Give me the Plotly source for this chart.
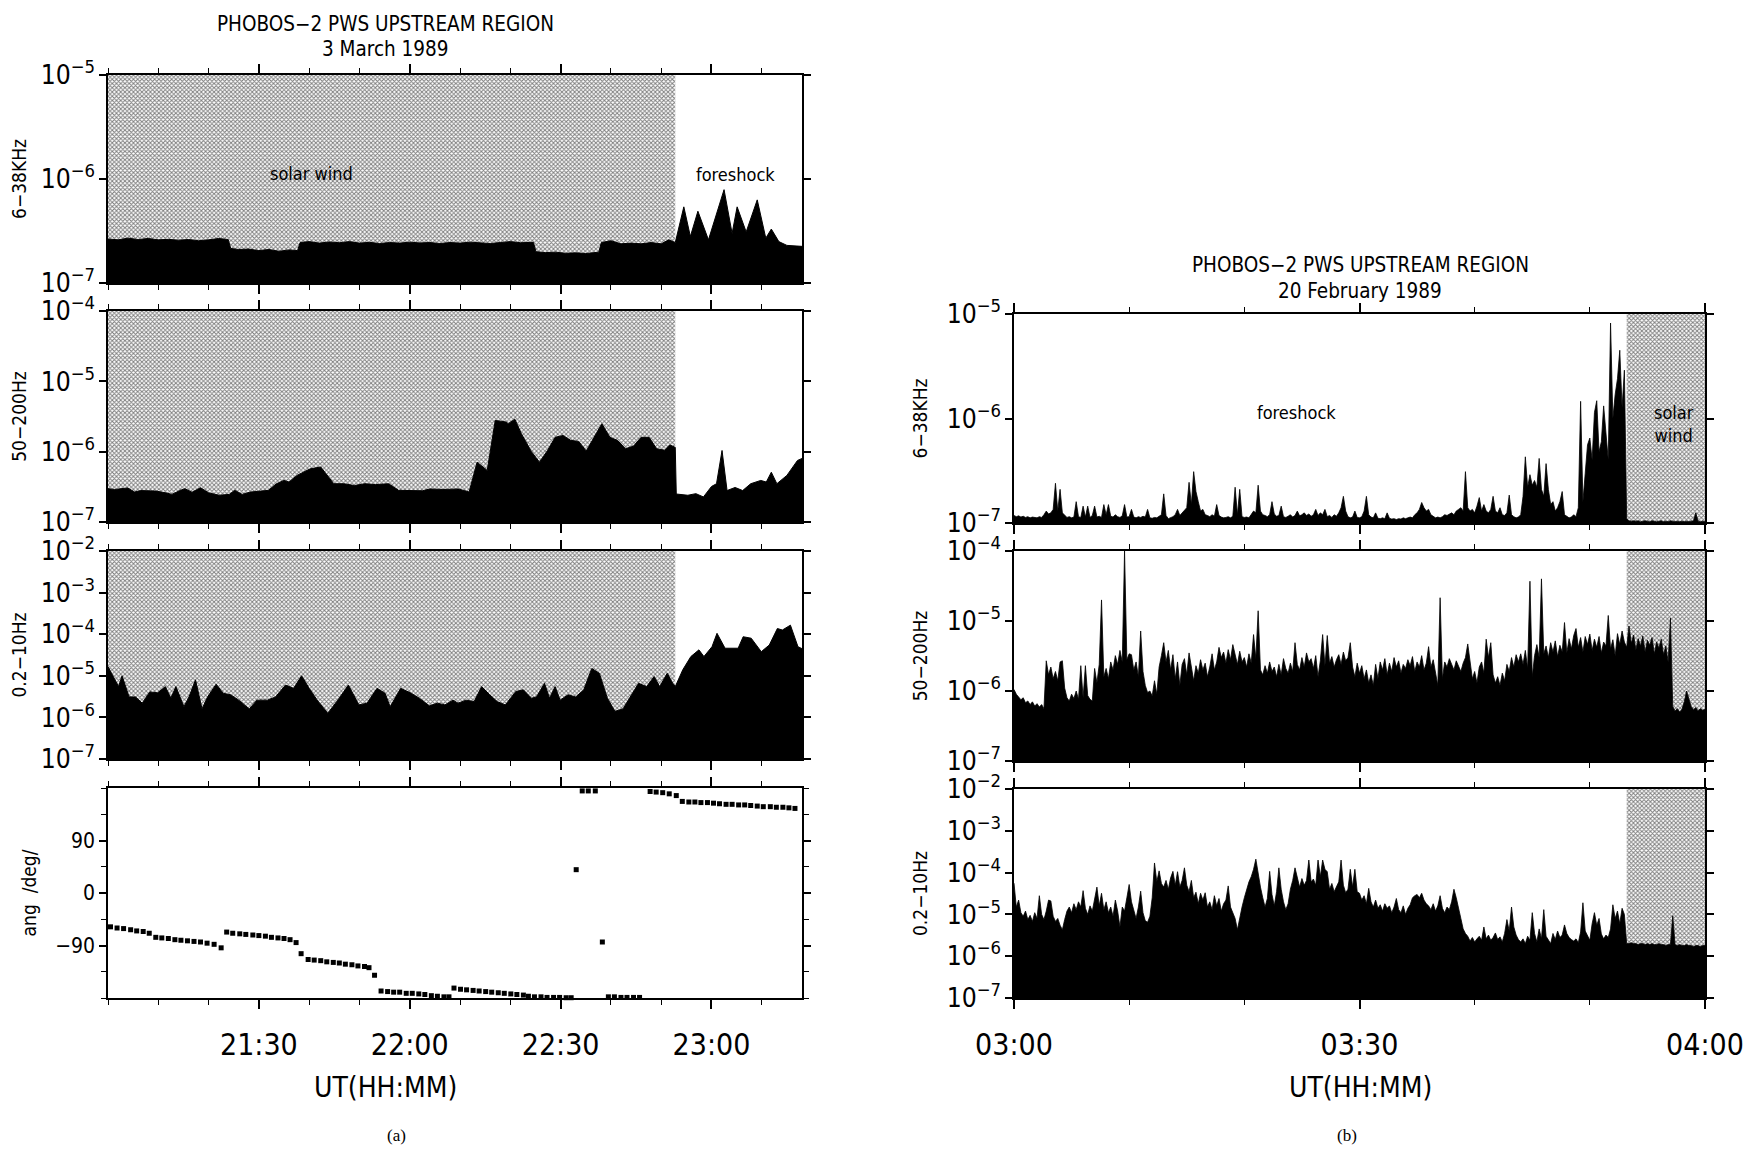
import plotly.graph_objects as go

## Data

# (a) 3 March 1989 -- time in minutes after 21:00 UT
a_sw_end = 112.8          # end of solar wind interval
a_xmax = 138
a_tickvals = [30, 60, 90, 120]
a_ticktext = ['21:30', '22:00', '22:30', '23:00']

a1_t = [0, 2, 4, 6, 8, 10, 12, 14, 16, 18, 20, 22, 23.9, 24.4, 26, 28, 30, 32, 34, 36, 37.7, 38.2,
        40, 42, 44, 46, 48, 50, 52, 54, 56, 58, 60, 62, 64, 66, 68, 70, 72, 74, 76, 78, 80, 82,
        84.6, 85.1, 87, 89, 91, 93, 95, 97.6, 98.1, 100, 102, 104, 106, 108, 110, 111.5, 112.8,
        114.5, 115.8, 117.3, 119.4, 122.5, 124.1, 125.1, 126.9, 129.1, 130.8, 131.9, 133.4, 135, 137.6, 138]
a1_v = [2.65e-7, 2.6e-7, 2.7e-7, 2.62e-7, 2.68e-7, 2.6e-7, 2.63e-7, 2.58e-7, 2.62e-7, 2.55e-7, 2.6e-7,
        2.68e-7, 2.62e-7, 2.15e-7, 2.1e-7, 2.12e-7, 2.05e-7, 2.1e-7, 2.02e-7, 2.08e-7, 2.05e-7, 2.45e-7,
        2.5e-7, 2.42e-7, 2.48e-7, 2.44e-7, 2.5e-7, 2.42e-7, 2.46e-7, 2.4e-7, 2.45e-7, 2.42e-7, 2.47e-7,
        2.43e-7, 2.45e-7, 2.4e-7, 2.45e-7, 2.42e-7, 2.47e-7, 2.44e-7, 2.4e-7, 2.45e-7, 2.5e-7, 2.44e-7,
        2.46e-7, 2.0e-7, 1.96e-7, 1.98e-7, 1.93e-7, 1.95e-7, 1.92e-7, 1.98e-7, 2.45e-7, 2.55e-7, 2.38e-7,
        2.42e-7, 2.38e-7, 2.45e-7, 2.38e-7, 2.6e-7, 2.45e-7,
        5.4e-7, 2.8e-7, 4.9e-7, 2.6e-7, 7.9e-7, 3.0e-7, 5.4e-7, 3.1e-7, 6.3e-7, 2.7e-7, 3.3e-7, 2.5e-7,
        2.3e-7, 2.25e-7, 2.25e-7]

a2_t = [0, 1.3, 3.9, 5.3, 6.5, 9.6, 11.7, 12.7, 14.3, 15.3, 16.7, 18.4, 20, 22.1, 24.1, 25.2, 26.7,
        28.3, 30.4, 31.9, 33.5, 35, 36, 37.6, 40.2, 42.3, 44.9, 46.9, 49, 51.1, 53.2, 55.8, 57.8, 60.4,
        62.5, 64, 66.6, 69.7, 71.8, 73.4, 74.4, 75.4, 77, 79.1, 79.6, 80.9, 82.2, 84.2, 85.8, 87.4, 88.9,
        90.5, 92, 93.6, 95.1, 96.7, 98.2, 99.8, 101.3, 102.9, 104.5, 106, 107.6, 109.1, 110.7, 111.7,
        112.8, 113.0, 115.3, 116.9, 118.4, 120, 121, 122.1, 123.1, 124.7, 126.2, 127.8, 129.8, 130.9,
        131.9, 133, 135, 137.1, 138]
a2_v = [2.98e-7, 2.9e-7, 3.05e-7, 2.67e-7, 2.8e-7, 2.75e-7, 2.58e-7, 2.47e-7, 2.8e-7, 2.98e-7, 2.65e-7,
        3.07e-7, 2.6e-7, 2.4e-7, 2.47e-7, 2.82e-7, 2.47e-7, 2.67e-7, 2.75e-7, 2.82e-7, 3.5e-7, 3.9e-7,
        3.7e-7, 4.6e-7, 5.7e-7, 6.06e-7, 3.5e-7, 3.5e-7, 3.3e-7, 3.5e-7, 3.4e-7, 3.5e-7, 2.82e-7, 2.82e-7,
        2.78e-7, 2.95e-7, 2.9e-7, 2.95e-7, 2.67e-7, 7.1e-7, 6.2e-7, 5.4e-7, 2.78e-6, 2.65e-6, 2.5e-6,
        2.9e-6, 1.8e-6, 1.0e-6, 7.1e-7, 1.04e-6, 1.6e-6, 1.7e-6, 1.45e-6, 1.4e-6, 1.02e-6, 1.6e-6, 2.5e-6,
        1.6e-6, 1.45e-6, 1.1e-6, 1.2e-6, 1.6e-6, 1.6e-6, 1.1e-6, 1.05e-6, 1.25e-6, 1.15e-6, 2.5e-7,
        2.4e-7, 2.53e-7, 2.27e-7, 3.2e-7, 3.5e-7, 1.04e-6, 2.8e-7, 3.1e-7, 2.8e-7, 3.5e-7, 3.9e-7, 3.7e-7,
        5.1e-7, 3.5e-7, 4.6e-7, 7.5e-7, 8e-7]

a3_t = [0, 1.0, 2.1, 2.8, 4.2, 5.5, 6.8, 8.3, 9.9, 11.4, 12.5, 13.5, 15.1, 16.1, 17.4, 18.7, 19.8,
        21.5, 22.9, 24.4, 26.0, 28.1, 29.6, 31.7, 33.3, 35.3, 36.9, 38.5, 40.0, 41.6, 43.7, 45.7, 47.8,
        49.9, 51.5, 53.5, 55.1, 56.1, 58.2, 60.3, 61.9, 63.9, 65.5, 67.0, 68.6, 69.6, 71.2, 72.8, 74.3,
        75.9, 77.4, 79.0, 81.1, 82.6, 84.2, 85.2, 86.8, 87.8, 88.9, 89.9, 91.5, 93.0, 94.6, 96.2, 97.7,
        99.3, 100.8, 102.4, 103.9, 105.5, 107.1, 108.6, 109.7, 111.2, 112.3, 112.8, 114.3, 115.9, 117.5,
        118.5, 120.1, 121.1, 122.7, 124.2, 125.3, 126.3, 127.9, 129.9, 131.5, 133.1, 134.1, 135.7, 137.2, 138]
a3_v = [1.66e-5, 9.6e-6, 5.5e-6, 1.0e-5, 3.1e-6, 3.1e-6, 2.2e-6, 4.1e-6, 3.9e-6, 5.5e-6, 2.9e-6, 5.5e-6,
        1.8e-6, 3.1e-6, 8.0e-6, 1.6e-6, 3.1e-6, 6.3e-6, 3.8e-6, 3.5e-6, 2.6e-6, 1.6e-6, 2.6e-6, 2.6e-6,
        3.1e-6, 6.0e-6, 5.0e-6, 1.0e-5, 5.0e-6, 2.6e-6, 1.26e-6, 2.6e-6, 6.0e-6, 2.0e-6, 2.2e-6, 5.0e-6,
        3.8e-6, 1.8e-6, 5.0e-6, 3.8e-6, 2.9e-6, 1.9e-6, 2.2e-6, 2.0e-6, 2.6e-6, 2.2e-6, 2.6e-6, 2.4e-6,
        5.5e-6, 3.5e-6, 2.4e-6, 2.0e-6, 4.2e-6, 4.6e-6, 2.9e-6, 3.1e-6, 6.6e-6, 2.9e-6, 5.5e-6, 2.6e-6,
        3.5e-6, 3.1e-6, 4.6e-6, 1.5e-5, 1.15e-5, 2.9e-6, 1.4e-6, 1.6e-6, 3.1e-6, 6.6e-6, 5.5e-6, 9.6e-6,
        5.5e-6, 1.15e-5, 6.6e-6, 5.5e-6, 1.4e-5, 2.9e-5, 4.2e-5, 2.9e-5, 5.0e-5, 1.05e-4, 4.6e-5, 4.6e-5,
        4.6e-5, 8.7e-5, 8.0e-5, 3.8e-5, 5.5e-5, 1.37e-4, 1.26e-4, 1.65e-4, 5.0e-5, 4.5e-5]

a4_t = [0.5, 1.8, 3.1, 4.5, 5.7, 7.0, 8.2, 9.5, 10.7, 12.0, 13.3, 14.5, 15.8, 17.1, 18.4, 19.7, 21.1, 22.5,
        23.6, 24.8, 26.2, 27.4, 28.8, 30.0, 31.3, 32.5, 33.8, 35.0, 36.2, 37.4,
        38.4, 39.8, 41.0, 42.3, 43.5, 44.8, 46.0, 47.2, 48.5, 49.7, 51.0, 51.9, 53.0,
        54.3, 55.6, 56.8, 58.0, 59.3, 60.5, 61.8, 63.0, 64.3, 65.5, 66.8, 67.8,
        68.8, 70.1, 71.3, 72.6, 73.8, 75.1, 76.3, 77.6, 78.8, 80.1, 81.3, 82.6,
        83.6, 84.8, 86.1, 87.3, 88.6, 89.8, 91.1, 92.1,
        93.1, 94.3, 95.5, 96.9, 98.3,
        99.5, 100.7, 102.0, 103.2, 104.5, 105.7,
        107.8, 109.0, 110.3, 111.6, 113.0,
        114.2, 115.5, 116.7, 117.9, 119.2, 120.4, 121.6, 122.9, 124.1, 125.4, 126.6, 127.8, 129.1, 130.3,
        131.7, 132.9, 134.2, 135.4, 136.6]
a4_ang = [-58, -60, -61, -63, -65, -66, -69, -76, -77, -78, -80, -81, -82, -83, -84, -86, -88, -94,
          -67, -69, -70, -71, -72, -73, -74, -76, -77, -78, -80, -85,
          -104, -114, -115, -116, -118, -119, -120, -122, -123, -125, -126, -128, -141,
          -168, -169, -170, -170, -172, -172, -173, -174, -176, -177, -178, -178,
          -163, -165, -166, -167, -168, -169, -170, -171, -172, -173, -174, -175,
          -177, -178, -178, -179, -179, -179, -179.5, -179.5,
          40, 175, 175, 175, -84,
          -178, -178, -179, -179, -179, -179,
          174, 173, 172, 170, 167,
          157, 156, 156, 155, 155, 154, 153, 152, 152, 151, 151, 150, 149, 148,
          148, 147, 147, 146, 145]

# (b) 20 February 1989 -- samples every 0.2 min after 03:00 UT
b_dt = 0.2
b_sw_start = 53.2         # start of solar wind interval
b_tickvals = [0, 30, 60]
b_ticktext = ['03:00', '03:30', '04:00']

b1_v = [1.18e-7, 1.15e-7, 1.17e-7, 1.14e-7, 1.16e-7, 1.13e-7, 1.15e-7, 1.12e-7, 1.14e-7, 1.13e-7,
        1.12e-7, 1.15e-7, 1.13e-7, 1.2e-7, 1.3e-7, 1.22e-7, 1.25e-7, 1.35e-7, 2.4e-7, 1.3e-7,
        2.1e-7, 1.25e-7, 1.18e-7, 1.13e-7, 1.15e-7, 1.12e-7, 1.14e-7, 1.6e-7, 1.15e-7, 1.13e-7,
        1.45e-7, 1.14e-7, 1.45e-7, 1.13e-7, 1.18e-7, 1.45e-7, 1.14e-7, 1.16e-7, 1.13e-7, 1.5e-7,
        1.2e-7, 1.5e-7, 1.16e-7, 1.14e-7, 1.2e-7, 1.15e-7, 1.13e-7, 1.17e-7, 1.5e-7, 1.14e-7,
        1.15e-7, 1.35e-7, 1.14e-7, 1.12e-7, 1.15e-7, 1.13e-7, 1.16e-7, 1.14e-7, 1.35e-7, 1.12e-7,
        1.11e-7, 1.13e-7, 1.12e-7, 1.15e-7, 1.2e-7, 1.9e-7, 1.18e-7, 1.1e-7, 1.12e-7, 1.15e-7,
        1.2e-7, 1.35e-7, 1.18e-7, 1.25e-7, 1.3e-7, 1.4e-7, 2.45e-7, 1.5e-7, 3.1e-7, 2.0e-7,
        1.6e-7, 1.3e-7, 1.35e-7, 1.2e-7, 1.18e-7, 1.15e-7, 1.2e-7, 1.16e-7, 1.5e-7, 1.18e-7,
        1.14e-7, 1.12e-7, 1.13e-7, 1.15e-7, 1.12e-7, 1.16e-7, 2.2e-7, 1.2e-7, 2.1e-7, 1.15e-7,
        1.13e-7, 1.14e-7, 1.12e-7, 1.2e-7, 1.3e-7, 1.25e-7, 2.3e-7, 1.3e-7, 1.2e-7, 1.18e-7,
        1.15e-7, 1.2e-7, 1.6e-7, 1.22e-7, 1.16e-7, 1.18e-7, 1.45e-7, 1.15e-7, 1.13e-7, 1.16e-7,
        1.2e-7, 1.14e-7, 1.18e-7, 1.3e-7, 1.17e-7, 1.2e-7, 1.25e-7, 1.18e-7, 1.22e-7, 1.16e-7,
        1.2e-7, 1.35e-7, 1.18e-7, 1.25e-7, 1.2e-7, 1.35e-7, 1.15e-7, 1.18e-7, 1.13e-7, 1.2e-7,
        1.16e-7, 1.25e-7, 1.4e-7, 1.8e-7, 1.3e-7, 1.15e-7, 1.12e-7, 1.14e-7, 1.3e-7, 1.13e-7,
        1.12e-7, 1.15e-7, 1.3e-7, 1.8e-7, 1.2e-7, 1.14e-7, 1.12e-7, 1.25e-7, 1.11e-7, 1.1e-7,
        1.12e-7, 1.1e-7, 1.25e-7, 1.11e-7, 1.09e-7, 1.1e-7, 1.08e-7, 1.1e-7, 1.09e-7, 1.12e-7,
        1.1e-7, 1.12e-7, 1.14e-7, 1.12e-7, 1.2e-7, 1.25e-7, 1.35e-7, 1.57e-7, 1.4e-7, 1.3e-7,
        1.35e-7, 1.2e-7, 1.15e-7, 1.12e-7, 1.14e-7, 1.12e-7, 1.15e-7, 1.2e-7, 1.18e-7, 1.22e-7,
        1.25e-7, 1.2e-7, 1.3e-7, 1.35e-7, 1.4e-7, 1.3e-7, 3.1e-7, 1.4e-7, 1.3e-7, 1.35e-7,
        1.25e-7, 1.45e-7, 1.75e-7, 1.3e-7, 1.5e-7, 1.3e-7, 1.25e-7, 1.35e-7, 1.8e-7, 1.3e-7,
        1.25e-7, 1.4e-7, 1.2e-7, 1.18e-7, 1.25e-7, 1.85e-7, 1.2e-7, 1.15e-7, 1.12e-7, 1.14e-7,
        1.2e-7, 1.8e-7, 4.3e-7, 2.2e-7, 2.9e-7, 2.3e-7, 2.55e-7, 2.2e-7, 4.15e-7, 2.1e-7,
        1.8e-7, 3.7e-7, 2.1e-7, 1.5e-7, 1.6e-7, 1.3e-7, 1.4e-7, 1.6e-7, 2.0e-7, 1.2e-7,
        1.15e-7, 1.12e-7, 1.14e-7, 1.2e-7, 1.15e-7, 1.4e-7, 1.46e-6, 1.6e-7, 3.0e-7, 5.6e-7,
        6.5e-7, 4.0e-7, 1.14e-6, 1.48e-6, 4.8e-7, 6.0e-7, 1.32e-6, 7.0e-7, 4.0e-7, 8.2e-6,
        1.0e-6, 1.7e-6, 2.4e-6, 4.5e-6, 1.27e-6, 2.9e-6, 1.1e-7, 1.05e-7, 1.04e-7, 1.05e-7,
        1.04e-7, 1.05e-7, 1.03e-7, 1.04e-7, 1.05e-7, 1.04e-7, 1.03e-7, 1.05e-7, 1.04e-7, 1.03e-7,
        1.04e-7, 1.05e-7, 1.03e-7, 1.04e-7, 1.03e-7, 1.05e-7, 1.04e-7, 1.03e-7, 1.04e-7, 1.03e-7,
        1.04e-7, 1.03e-7, 1.04e-7, 1.03e-7, 1.04e-7, 1.05e-7, 1.25e-7, 1.04e-7, 1.03e-7, 1.04e-7,
        1.03e-7]

b2_v = [1.05e-6, 9e-7, 8.2e-7, 7.5e-7, 8e-7, 6.8e-7, 7.2e-7, 6.4e-7, 7e-7, 6.1e-7,
        6.6e-7, 5.9e-7, 6.4e-7, 5.6e-7, 2.7e-6, 1.7e-6, 2.2e-6, 1.5e-6, 1.9e-6, 1.4e-6,
        2.6e-6, 2.7e-6, 1.1e-6, 8e-7, 7.2e-7, 9e-7, 7.8e-7, 1.0e-6, 7.6e-7, 2.3e-6,
        8e-7, 2.3e-6, 8.6e-7, 7.6e-7, 7.2e-7, 2.1e-6, 1.3e-6, 2.4e-6, 2.0e-5, 1.6e-6,
        2.1e-6, 1.5e-6, 2.6e-6, 2.0e-6, 3.2e-6, 2.4e-6, 3.8e-6, 2.6e-6, 1.0e-4, 2.8e-6,
        3.4e-6, 3.3e-6, 2.0e-6, 2.6e-6, 1.6e-6, 7.2e-6, 1.9e-6, 1.2e-6, 9.5e-7, 1.0e-6,
        8.5e-7, 1.4e-6, 9e-7, 2.2e-6, 3.2e-6, 4.9e-6, 2.6e-6, 3.8e-6, 2.0e-6, 3.3e-6,
        1.5e-6, 2.6e-6, 1.2e-6, 2.4e-6, 2.9e-6, 1.7e-6, 3.5e-6, 2.1e-6, 1.4e-6, 2.3e-6,
        1.8e-6, 2.8e-6, 2.0e-6, 2.5e-6, 1.6e-6, 2.2e-6, 3.4e-6, 2.0e-6, 2.6e-6, 4.2e-6,
        3.0e-6, 3.6e-6, 2.5e-6, 3.9e-6, 2.8e-6, 4.6e-6, 3.2e-6, 2.4e-6, 3.7e-6, 2.6e-6,
        3.0e-6, 2.2e-6, 3.4e-6, 2.5e-6, 6.4e-6, 2.9e-6, 1.4e-5, 2.0e-6, 1.7e-6, 2.3e-6,
        1.8e-6, 2.6e-6, 1.9e-6, 2.2e-6, 1.6e-6, 2.4e-6, 1.7e-6, 2.9e-6, 2.1e-6, 1.8e-6,
        2.5e-6, 1.9e-6, 4.9e-6, 2.4e-6, 2.0e-6, 3.0e-6, 2.2e-6, 3.5e-6, 2.6e-6, 2.9e-6,
        2.1e-6, 3.2e-6, 1.6e-6, 2.7e-6, 6.4e-6, 2.3e-6, 6.2e-6, 2.5e-6, 3.1e-6, 2.2e-6,
        2.8e-6, 3.3e-6, 2.4e-6, 3.6e-6, 2.7e-6, 3.0e-6, 4.9e-6, 2.2e-6, 1.6e-6, 2.5e-6,
        1.8e-6, 2.3e-6, 1.5e-6, 2.0e-6, 1.3e-6, 1.7e-6, 1.2e-6, 2.4e-6, 1.5e-6, 2.6e-6,
        2.0e-6, 2.9e-6, 1.7e-6, 2.5e-6, 1.9e-6, 3.0e-6, 2.2e-6, 2.7e-6, 1.8e-6, 2.4e-6,
        2.1e-6, 2.8e-6, 2.3e-6, 3.1e-6, 1.9e-6, 2.6e-6, 2.2e-6, 3.2e-6, 2.0e-6, 2.5e-6,
        4.3e-6, 2.2e-6, 2.8e-6, 1.8e-6, 1.2e-6, 2.15e-5, 1.5e-6, 2.6e-6, 2.2e-6, 2.9e-6,
        2.4e-6, 2.0e-6, 2.7e-6, 2.3e-6, 1.9e-6, 2.5e-6, 3.0e-6, 4.7e-6, 2.4e-6, 1.5e-6,
        1.9e-6, 1.3e-6, 2.2e-6, 2.6e-6, 1.8e-6, 5.5e-6, 3.0e-6, 4.9e-6, 1.7e-6, 1.3e-6,
        1.6e-6, 1.2e-6, 1.8e-6, 1.4e-6, 2.4e-6, 1.9e-6, 3.0e-6, 2.2e-6, 3.3e-6, 2.6e-6,
        3.4e-6, 2.4e-6, 3.8e-6, 2.1e-6, 3.7e-5, 1.6e-6, 3.2e-6, 4.6e-6, 3.0e-6, 4.0e-5,
        3.4e-6, 4.4e-6, 3.0e-6, 4.9e-6, 3.6e-6, 5.2e-6, 3.1e-6, 4.5e-6, 3.6e-6, 9.5e-6,
        3.5e-6, 5.6e-6, 4.0e-6, 6.2e-6, 7.8e-6, 4.2e-6, 5.8e-6, 3.6e-6, 6.0e-6, 4.6e-6,
        6.5e-6, 3.8e-6, 5.5e-6, 4.2e-6, 6.0e-6, 3.5e-6, 5.0e-6, 4.4e-6, 1.2e-5, 4.0e-6,
        5.4e-6, 3.2e-6, 6.6e-6, 4.6e-6, 7.2e-6, 5.0e-6, 4.2e-6, 8.5e-6, 4.8e-6, 6.3e-6,
        3.9e-6, 5.6e-6, 4.4e-6, 6.1e-6, 3.6e-6, 5.3e-6, 4.5e-6, 5.8e-6, 3.4e-6, 5.0e-6,
        4.1e-6, 5.5e-6, 3.3e-6, 4.4e-6, 2.6e-6, 1.1e-5, 6.0e-7, 5.2e-7, 5.6e-7, 5.0e-7,
        5.5e-7, 7.0e-7, 1.0e-6, 8.0e-7, 6.0e-7, 5.4e-7, 5.8e-7, 5.2e-7, 5.6e-7, 5.3e-7,
        5.5e-7]

b3_v = [5.6e-5, 1.5e-5, 2.2e-5, 1.1e-5, 9e-6, 1.2e-5, 7.5e-6, 9.5e-6, 6.8e-6, 1.1e-5,
        8e-6, 2.8e-5, 1.0e-5, 7.5e-6, 1.2e-5, 2.2e-5, 2.1e-5, 9e-6, 6.8e-6, 8e-6,
        5.5e-6, 4.3e-6, 7.5e-6, 1.2e-5, 1.5e-5, 1.1e-5, 1.8e-5, 1.3e-5, 2.0e-5, 1.5e-5,
        3.7e-5, 1.4e-5, 1.0e-5, 1.6e-5, 1.2e-5, 2.3e-5, 4.5e-5, 1.6e-5, 3.2e-5, 1.3e-5,
        2.0e-5, 1.1e-5, 1.5e-5, 9e-6, 2.2e-5, 1.2e-5, 5.0e-6, 1.5e-5, 1.2e-5, 2.5e-5,
        5.2e-5, 2.0e-5, 1.3e-5, 8e-6, 1.5e-5, 3.6e-5, 1.1e-5, 7e-6, 6.5e-6, 9e-6,
        2.5e-5, 1.7e-4, 6e-5, 1.1e-4, 5.5e-5, 4.5e-5, 6.5e-5, 4.0e-5, 7.5e-5, 1.07e-4,
        5.0e-5, 1.05e-4, 4.5e-5, 6.5e-5, 1.3e-4, 5.0e-5, 3.5e-5, 6.5e-5, 2.5e-5, 3.4e-5,
        1.8e-5, 3.2e-5, 2.2e-5, 3.3e-5, 1.5e-5, 2.0e-5, 1.3e-5, 2.8e-5, 1.6e-5, 2.4e-5,
        1.2e-5, 1.8e-5, 2.2e-5, 4.8e-5, 1.5e-5, 1.1e-5, 8e-6, 4.3e-6, 9e-6, 1.5e-5,
        2.5e-5, 4.2e-5, 6e-5, 8e-5, 1.2e-4, 2.1e-4, 9e-5, 4.5e-5, 2.5e-5, 1.5e-5,
        2.4e-5, 1.07e-4, 3.0e-5, 1.6e-5, 3.5e-5, 1.3e-4, 4.0e-5, 2.0e-5, 1.3e-5, 1.8e-5,
        4.0e-5, 6.5e-5, 1.3e-4, 7.5e-5, 4.5e-5, 7.2e-5, 5.0e-5, 6.5e-5, 2.0e-4, 6.0e-5,
        7.0e-5, 5.0e-5, 2.0e-4, 8.0e-5, 2.0e-4, 1.2e-4, 1.05e-4, 4.0e-5, 5.5e-5, 3.5e-5,
        4.8e-5, 6.0e-5, 2.0e-4, 5.0e-5, 3.3e-5, 4.0e-5, 1.2e-4, 4.5e-5, 1.2e-4, 3.5e-5,
        3.2e-5, 2.2e-5, 2.8e-5, 1.8e-5, 4.2e-5, 2.0e-5, 1.5e-5, 2.2e-5, 1.4e-5, 1.7e-5,
        1.2e-5, 1.8e-5, 1.4e-5, 1.6e-5, 1.1e-5, 1.5e-5, 2.4e-5, 1.3e-5, 1.1e-5, 1.6e-5,
        1.0e-5, 1.4e-5, 1.7e-5, 2.5e-5, 2.8e-5, 3.0e-5, 2.5e-5, 3.2e-5, 2.2e-5, 1.8e-5,
        1.6e-5, 1.3e-5, 1.8e-5, 1.2e-5, 1.6e-5, 2.8e-5, 1.4e-5, 1.1e-5, 1.5e-5, 1.3e-5,
        2.0e-5, 4.0e-5, 2.5e-5, 1.5e-5, 8e-6, 4.5e-6, 3.5e-6, 3.0e-6, 2.3e-6, 2.8e-6,
        2.2e-6, 2.6e-6, 3.0e-6, 2.4e-6, 5.0e-6, 2.6e-6, 3.2e-6, 2.4e-6, 2.8e-6, 3.6e-6,
        2.5e-6, 2.9e-6, 2.2e-6, 3.5e-6, 7.5e-6, 4.0e-6, 1.5e-5, 5.0e-6, 3.2e-6, 2.5e-6,
        2.2e-6, 2.6e-6, 2.0e-6, 3.0e-6, 2.4e-6, 1.1e-5, 3.5e-6, 2.2e-6, 4.5e-6, 2.6e-6,
        1.3e-5, 3.0e-6, 2.4e-6, 2.0e-6, 3.5e-6, 2.5e-6, 4.0e-6, 2.8e-6, 3.2e-6, 5.6e-6,
        3.5e-6, 2.8e-6, 2.5e-6, 2.3e-6, 2.6e-6, 2.1e-6, 3.8e-6, 1.9e-5, 4.0e-6, 3.0e-6,
        2.4e-6, 6.0e-6, 1.1e-5, 5.5e-6, 8.0e-6, 3.4e-6, 2.6e-6, 3.2e-6, 2.8e-6, 4.5e-6,
        1.7e-5, 8e-6, 1.2e-5, 6e-6, 1.4e-5, 1.0e-5, 2.0e-6, 2.0e-6, 2.1e-6, 2.0e-6,
        2.0e-6, 1.9e-6, 2.0e-6, 2.0e-6, 1.9e-6, 2.0e-6, 1.9e-6, 2.0e-6, 1.9e-6, 1.9e-6,
        2.0e-6, 1.9e-6, 1.9e-6, 1.8e-6, 1.9e-6, 1.9e-6, 9.3e-6, 1.9e-6, 1.8e-6, 1.9e-6,
        1.8e-6, 1.8e-6, 1.9e-6, 1.8e-6, 1.8e-6, 1.7e-6, 1.8e-6, 1.8e-6, 1.7e-6, 1.8e-6,
        1.8e-6]

b1_t = [round(i * b_dt, 1) for i in range(len(b1_v))]
b2_t = [round(i * b_dt, 1) for i in range(len(b2_v))]
b3_t = [round(i * b_dt, 1) for i in range(len(b3_v))]

## Figure

FONT = "DejaVu Sans Condensed, DejaVu Sans, sans-serif"
STIPPLE = dict(shape='x', size=3, solidity=0.55, fgcolor='black', bgcolor='white')

# the page puts the plot 8 px in from the top-left corner
W, H, OFF = 1735, 1144, 8


def px(x):
    return (x - OFF) / W


def py(y):
    return 1 - (y - OFF) / H


fig = go.Figure()


def add_spectrum(t, v, ax, top, sw_lo, sw_hi, lw=1.0):
    xa, ya = 'x' + ax, 'y' + ax
    common = dict(xaxis=xa, yaxis=ya, showlegend=False, hoverinfo='skip')
    # solar wind interval: stipple from the curve up to the top of the panel
    sw = [(ti, vi) for ti, vi in zip(t, v) if sw_lo - 1e-9 <= ti <= sw_hi + 1e-9]
    fig.add_scatter(x=[sw_lo, sw_hi], y=[top, top], mode='lines', line_width=0, **common)
    fig.add_scatter(x=[p[0] for p in sw], y=[p[1] for p in sw], mode='lines', line_width=0,
                    fill='tonexty', fillcolor='white', fillpattern=STIPPLE, **common)
    # black area under the curve
    fig.add_scatter(x=[t[0], t[-1]], y=[1e-9, 1e-9], mode='lines', line_width=0, **common)
    fig.add_scatter(x=t, y=v, mode='lines', line=dict(color='black', width=lw),
                    fill='tonexty', fillcolor='black', **common)


add_spectrum(a1_t, a1_v, '', 1e-5, 0, a_sw_end)
add_spectrum(a2_t, a2_v, '2', 1e-4, 0, a_sw_end)
add_spectrum(a3_t, a3_v, '3', 1e-2, 0, a_sw_end)
fig.add_scatter(x=a4_t, y=a4_ang, mode='markers', xaxis='x4', yaxis='y4', showlegend=False,
                cliponaxis=False, marker=dict(symbol='square', size=5, color='black'))
add_spectrum(b1_t, b1_v, '5', 1e-5, b_sw_start, 60, lw=0.8)
add_spectrum(b2_t, b2_v, '6', 1e-4, b_sw_start, 60, lw=0.8)
add_spectrum(b3_t, b3_v, '7', 1e-2, b_sw_start, 60, lw=0.8)

AX_LINE = dict(showline=True, linecolor='black', linewidth=1.5, mirror='ticks', ticks='outside',
               tickcolor='black', tickwidth=1.5, showgrid=False, zeroline=False, automargin=False)


def xax(dom, anchor, rng, tv, tt, labels):
    return dict(AX_LINE, domain=dom, anchor=anchor, range=rng, tickmode='array', tickvals=tv,
                ticktext=tt, ticklen=9, showticklabels=labels, ticklabelstandoff=10,
                ticklabeloverflow='allow', tickfont=dict(size=30, family=FONT),
                minor=dict(ticks='outside', ticklen=5, tickwidth=1.3, tickcolor='black', dtick=10, tick0=0))


def ylog(dom, anchor, lo, hi, title):
    return dict(AX_LINE, domain=dom, anchor=anchor, type='log', range=[lo, hi], dtick=1, ticklen=7,
                exponentformat='power', showexponent='all', tickfont=dict(size=21, family=FONT),
                title=dict(text=title, font=dict(size=19, family=FONT), standoff=14))


ax_left = [px(108), px(802)]
ax_right = [px(1014), px(1705)]

fig.update_layout(
    width=W, height=H, margin=dict(l=0, r=0, t=0, b=0, autoexpand=False),
    paper_bgcolor='white', plot_bgcolor='white', font=dict(family=FONT, color='black'),
    xaxis=xax(ax_left, 'y', [0, a_xmax], a_tickvals, a_ticktext, False),
    xaxis2=xax(ax_left, 'y2', [0, a_xmax], a_tickvals, a_ticktext, False),
    xaxis3=xax(ax_left, 'y3', [0, a_xmax], a_tickvals, a_ticktext, False),
    xaxis4=xax(ax_left, 'y4', [0, a_xmax], a_tickvals, a_ticktext, True),
    xaxis5=xax(ax_right, 'y5', [0, 60], b_tickvals, b_ticktext, False),
    xaxis6=xax(ax_right, 'y6', [0, 60], b_tickvals, b_ticktext, False),
    xaxis7=xax(ax_right, 'y7', [0, 60], b_tickvals, b_ticktext, True),
    yaxis=ylog([py(283), py(75)], 'x', -7, -5, '6−38KHz'),
    yaxis2=ylog([py(522), py(311)], 'x2', -7, -4, '50−200Hz'),
    yaxis3=ylog([py(759), py(551)], 'x3', -7, -2, '0.2−10Hz'),
    yaxis4=dict(AX_LINE, domain=[py(998), py(788)], anchor='x4', range=[-180, 180], tickmode='array',
                tickvals=[-90, 0, 90], ticktext=['−90', '0', '90'], ticklen=7,
                tickfont=dict(size=21, family=FONT),
                minor=dict(ticks='outside', ticklen=5, tickwidth=1.3, tickcolor='black', dtick=45, tick0=0),
                title=dict(text='ang  /deg/', font=dict(size=19, family=FONT), standoff=14)),
    yaxis5=ylog([py(523), py(314)], 'x5', -7, -5, '6−38KHz'),
    yaxis6=ylog([py(761), py(551)], 'x6', -7, -4, '50−200Hz'),
    yaxis7=ylog([py(998), py(789)], 'x7', -7, -2, '0.2−10Hz'),
)

ann = [
    dict(text='PHOBOS−2 PWS UPSTREAM REGION', x=385, y=24, size=20.5),
    dict(text='3 March 1989', x=385, y=49, size=20.5),
    dict(text='PHOBOS−2 PWS UPSTREAM REGION', x=1360, y=265, size=20.5),
    dict(text='20 February 1989', x=1360, y=291, size=20.5),
    dict(text='UT(HH:MM)', x=385, y=1087, size=28),
    dict(text='UT(HH:MM)', x=1360, y=1087, size=28),
]
for a in ann:
    fig.add_annotation(text=a['text'], x=px(a['x']), y=py(a['y']), xref='paper', yref='paper',
                       showarrow=False, xanchor='center', yanchor='middle',
                       font=dict(size=a['size'], family=FONT))
for txt, xx in [('(a)', 385), ('(b)', 1359)]:
    fig.add_annotation(text=txt, x=px(xx), y=py(1147), xref='paper', yref='paper', showarrow=False,
                       font=dict(size=17, family='Liberation Serif, serif'))

fig.add_annotation(text='solar wind', x=40.5, y=-5.95, xref='x', yref='y', showarrow=False,
                   font=dict(size=18, family=FONT))
fig.add_annotation(text='foreshock', x=124.8, y=-5.96, xref='x', yref='y', showarrow=False,
                   font=dict(size=18, family=FONT))
fig.add_annotation(text='foreshock', x=24.5, y=-5.94, xref='x5', yref='y5', showarrow=False,
                   font=dict(size=18, family=FONT))
fig.add_annotation(text='solar<br>wind', x=57.3, y=-6.05, xref='x5', yref='y5', showarrow=False,
                   font=dict(size=18, family=FONT))

fig.write_html("out.html")
